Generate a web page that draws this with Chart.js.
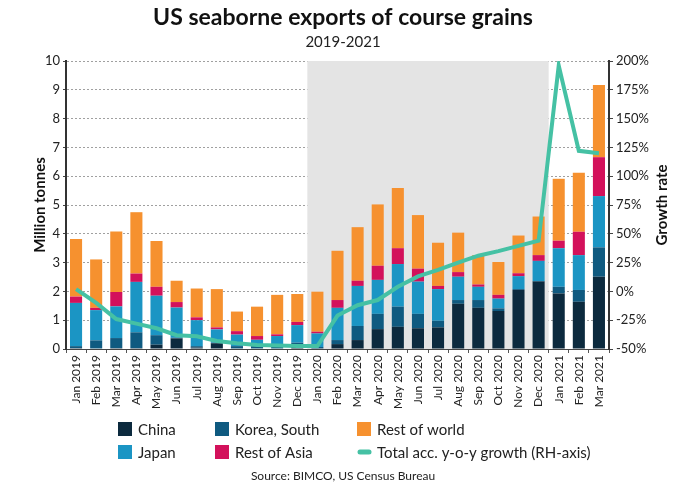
<!DOCTYPE html>
<html>
<head>
<meta charset="utf-8">
<script src="https://cdn.jsdelivr.net/npm/chart.js@4/dist/chart.umd.min.js"></script>
<style>
  html, body { margin: 0; padding: 0; background: #fff; }
  #wrap { width: 686px; height: 490px; }
</style>
</head>
<body>
<div id="wrap"><canvas id="chart" width="686" height="490"></canvas></div>
<script>
// -------- DATA --------
const months = ["Jan 2019","Feb 2019","Mar 2019","Apr 2019","May 2019","Jun 2019","Jul 2019","Aug 2019","Sep 2019","Oct 2019","Nov 2019","Dec 2019",
  "Jan 2020","Feb 2020","Mar 2020","Apr 2020","May 2020","Jun 2020","Jul 2020","Aug 2020","Sep 2020","Oct 2020","Nov 2020","Dec 2020",
  "Jan 2021","Feb 2021","Mar 2021"];

const china      = [0.03,0.02,0.03,0.03,0.15,0.37,0.05,0.20,0.02,0.02,0.02,0.12, 0.02,0.17,0.31,0.69,0.77,0.72,0.75,1.57,1.43,1.32,2.05,2.34, 1.93,1.64,2.51];
const korea      = [0.07,0.28,0.35,0.55,0.33,0.02,0.05,0.02,0.08,0.08,0.06,0.10, 0.05,0.14,0.49,0.53,0.70,0.50,0.23,0.13,0.27,0.09,0.03,0.02, 0.23,0.41,1.02];
const japan      = [1.50,1.05,1.10,1.75,1.37,1.05,0.90,0.46,0.40,0.22,0.37,0.61, 0.47,1.12,1.39,1.18,1.48,1.12,1.10,0.81,0.46,0.34,0.45,0.70, 1.34,1.21,1.78];
const restAsia   = [0.22,0.08,0.50,0.29,0.31,0.19,0.10,0.07,0.12,0.13,0.06,0.11, 0.06,0.27,0.18,0.49,0.55,0.45,0.11,0.16,0.08,0.13,0.10,0.20, 0.26,0.81,1.35];
const restWorld  = [2.00,1.68,2.10,2.13,1.59,0.74,1.00,1.33,0.68,1.02,1.37,0.97, 1.39,1.71,1.86,2.13,2.09,1.86,1.50,1.37,1.02,1.14,1.31,1.34, 2.15,2.05,2.51];
const growth     = [2,-10,-24,-28,-32,-38,-39,-43,-45,-46.5,-47,-47.5, -47.5,-21,-12,-7.5,4,13,18.6,25,31,35,39.5,44, 196,122,120];

const leftTicks  = [0,1,2,3,4,5,6,7,8,9,10];
const rightTicks = [-50,-25,0,25,50,75,100,125,150,175,200];
const shadeFrom = "Jan 2020", shadeTo = "Dec 2020";

const FONT = "Lato, 'Open Sans', sans-serif";
const TXT = "#222";

// -------- PLUGINS --------
const shade = {
  id: "shade",
  beforeDatasetsDraw(c){
    const {ctx, chartArea:a, scales:{x}} = c;
    const half = (x.getPixelForValue(1) - x.getPixelForValue(0)) / 2;
    const x0 = x.getPixelForValue(months.indexOf(shadeFrom)) - half;
    const x1 = x.getPixelForValue(months.indexOf(shadeTo)) + half;
    ctx.save();
    ctx.fillStyle = "#e4e4e4";
    ctx.fillRect(x0, a.top, x1 - x0, a.bottom - a.top);
    ctx.restore();
  }
};

// legend slot [column,row] per dataset, in dataset order
const legendSlots = [[0,0],[1,0],[0,1],[1,1],[2,0],[2,1]];

const decor = {
  id: "decor",
  afterDraw(c){
    const ctx = c.ctx;
    ctx.save();
    ctx.fillStyle = "#111";
    ctx.textAlign = "center";
    ctx.textBaseline = "middle";
    ctx.font = "bold 23px " + FONT;
    ctx.fillText("US seaborne exports of course grains", 343, 18);
    ctx.font = "15px " + FONT;
    ctx.fillStyle = TXT;
    ctx.fillText("2019-2021", 343, 42);

    // axis titles
    ctx.font = "bold 15px " + FONT;
    ctx.fillStyle = "#111";
    ctx.save();
    ctx.translate(40, 205);
    ctx.rotate(-Math.PI/2);
    ctx.fillText("Million tonnes", 0, 0);
    ctx.restore();
    ctx.save();
    ctx.translate(662, 205);
    ctx.rotate(-Math.PI/2);
    ctx.fillText("Growth rate", 0, 0);
    ctx.restore();

    // legend
    const cols = [118, 215, 357];
    const rows = [429, 452];
    ctx.font = "15px " + FONT;
    ctx.textAlign = "left";
    c.data.datasets.forEach((d,i)=>{
      const [col,row] = legendSlots[i];
      const lx = cols[col], ly = rows[row];
      if(d.type === "line"){
        ctx.strokeStyle = d.borderColor;
        ctx.lineWidth = 5;
        ctx.lineCap = "round";
        ctx.beginPath();
        ctx.moveTo(lx + 3, ly);
        ctx.lineTo(lx + 12, ly);
        ctx.stroke();
      } else {
        ctx.fillStyle = d.backgroundColor;
        ctx.fillRect(lx, ly - 7, 14, 14);
      }
      ctx.fillStyle = TXT;
      ctx.fillText(d.label, lx + 20, ly + 1);
    });

    ctx.font = "12px " + FONT;
    ctx.textAlign = "center";
    ctx.fillText("Source: BIMCO, US Census Bureau", 343, 476);
    ctx.restore();
  }
};

// -------- CHART --------
const bar = (label, data, color) => ({
  type: "bar", label, data, backgroundColor: color, yAxisID: "y",
  barPercentage: 0.6, categoryPercentage: 1, order: 2
});

new Chart(document.getElementById("chart"), {
  data: {
    labels: months,
    datasets: [
      bar("China", china, "#0c2a3e"),
      bar("Korea, South", korea, "#0f5a80"),
      bar("Japan", japan, "#1b95c4"),
      bar("Rest of Asia", restAsia, "#d3115b"),
      bar("Rest of world", restWorld, "#f6912f"),
      { type: "line", label: "Total acc. y-o-y growth (RH-axis)", data: growth, yAxisID: "y1",
        borderColor: "#45c1a4", backgroundColor: "#45c1a4", borderWidth: 4, pointRadius: 0,
        tension: 0, order: 1 }
    ]
  },
  options: {
    responsive: false,
    animation: false,
    layout: { padding: { top: 61, left: 0, right: 0, bottom: 0 } },
    plugins: { legend: { display: false }, title: { display: false }, tooltip: { enabled: false } },
    scales: {
      x: {
        stacked: true,
        afterFit: s => { s.height = 141; },
        grid: { display: true, drawOnChartArea: false, offset: true, tickLength: 4, color: "#555" },
        border: { display: true, color: "#444", width: 1 },
        ticks: { color: TXT, font: { family: FONT, size: 12 }, minRotation: 90, maxRotation: 90, autoSkip: false, padding: 2 }
      },
      y: {
        stacked: true,
        position: "left",
        min: 0, max: 10,
        afterFit: s => { s.width = 66; },
        afterBuildTicks: s => { s.ticks = leftTicks.map(v => ({ value: v })); },
        grid: { color: "#a0a0a0", lineWidth: 1, tickLength: 3, tickColor: "#444", drawTicks: true },
        border: { display: true, color: "#333", width: 2, dash: [2,2] },
        ticks: { color: TXT, font: { family: FONT, size: 13 }, padding: 3 }
      },
      y1: {
        position: "right",
        min: -50, max: 200,
        afterFit: s => { s.width = 77; },
        afterBuildTicks: s => { s.ticks = rightTicks.map(v => ({ value: v })); },
        grid: { drawOnChartArea: false, tickLength: 4, color: "#444" },
        border: { display: true, color: "#333", width: 2 },
        ticks: { color: TXT, font: { family: FONT, size: 13 }, padding: 3, callback: v => v + "%" }
      }
    }
  },
  plugins: [shade, decor]
});
</script>
</body>
</html>
